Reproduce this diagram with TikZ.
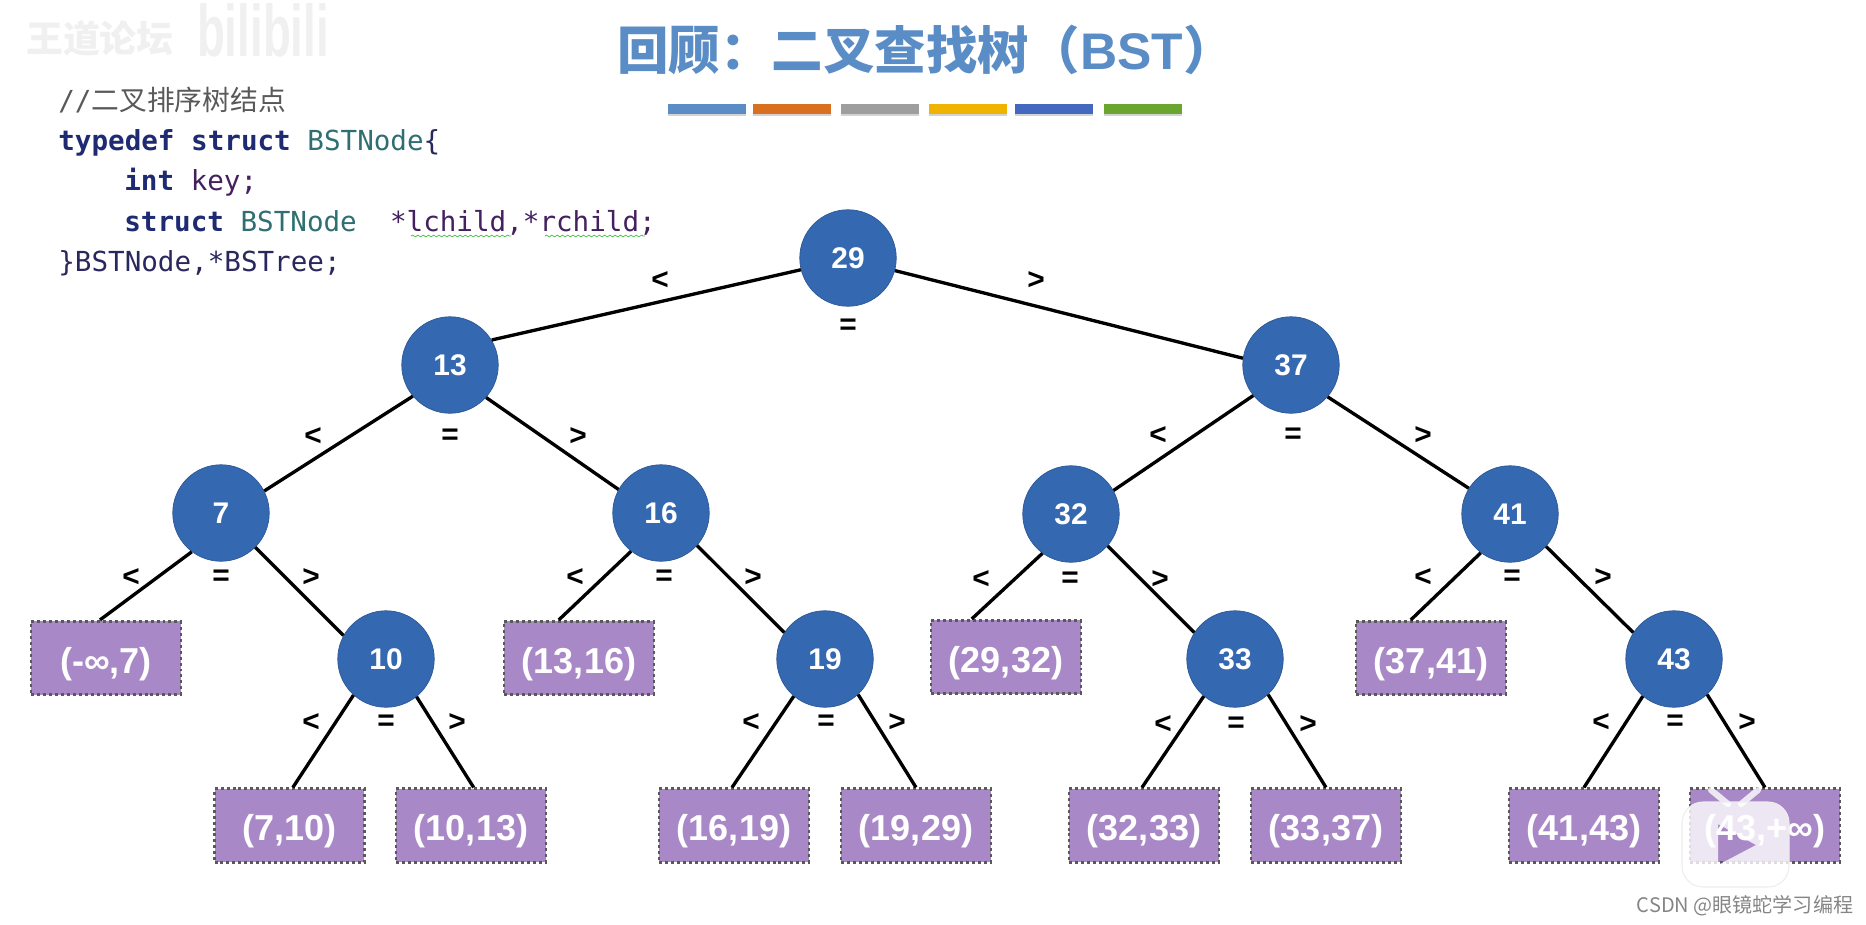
\documentclass[tikz,border=0pt]{standalone}
\usepackage{fontspec}
\setmainfont{Liberation Sans}
\setmonofont{DejaVu Sans Mono}
\newfontfamily\cjk{Noto Sans CJK SC}
\usetikzlibrary{shadows,decorations.pathmorphing}
\definecolor{titleblue}{HTML}{5A8CC6}
\definecolor{treeblue}{HTML}{3468B0}
\definecolor{leafpurple}{HTML}{A888C6}
\definecolor{kwblue}{HTML}{1E2A72}
\definecolor{typeteal}{HTML}{2F6F72}
\definecolor{varpurple}{HTML}{43205F}
\definecolor{codeink}{HTML}{28285E}
\definecolor{barorange}{HTML}{D9701F}
\definecolor{baryellow}{HTML}{F0B400}
\definecolor{barblue}{HTML}{4468BF}
\definecolor{bargreen}{HTML}{6AA52F}
\tikzset{
  tree/.style={circle,fill=treeblue,draw=treeblue!85!black,line width=0.4pt,minimum size=1.93cm,inner sep=0pt,text=white,font=\fontsize{17}{18}\selectfont\bfseries},
  leaf/.style={rectangle,fill=leafpurple,draw=black!65,line width=1.5pt,dash pattern=on 1.7pt off 1.7pt,minimum width=3cm,minimum height=1.47cm,inner sep=0pt,text=white,text height=22.4pt,text depth=5pt,font=\fontsize{20.5}{22}\selectfont\bfseries},
  edge/.style={black,line width=1.9pt},
  cmp/.style={inner sep=0pt,yshift=-0.05cm,font=\fontsize{17}{18}\selectfont\bfseries},
  bar/.style={rectangle,minimum width=1.56cm,minimum height=0.2cm,inner sep=0pt,drop shadow={shadow xshift=0pt,shadow yshift=-1.2pt,opacity=0.35}},
  code/.style={anchor=base west,inner sep=0pt,font=\fontsize{15.7}{18}\selectfont\ttfamily},
  squiggle/.style={draw=green!45!gray,line width=0.4pt,decorate,decoration={snake,amplitude=0.5pt,segment length=3pt}},
}
\begin{document}
\begin{tikzpicture}[x=0.02cm,y=-0.02cm]
    \useasboundingbox (0,0) rectangle (1866,924);
    % watermark, top left
    \node[text=black!6,font=\cjk\bfseries\fontsize{21}{24}\selectfont] (wmark) at (100,39) {王道论坛};
    \node[text=black!6,font=\fontsize{26}{28}\selectfont\bfseries,yscale=1.6] (wlogo) at (263,30) {bilibili};
    % title and bars
    \node[text=titleblue,font=\cjk\bfseries\fontsize{29.3}{32}\selectfont] (title) at (926,50) {回顾：二叉查找树（{\rmfamily\bfseries BST}）};
    \node[bar,fill=titleblue] (bar1) at (707,109) {};
    \node[bar,fill=barorange] (bar2) at (792,109) {};
    \node[bar,fill=black!38] (bar3) at (880,109) {};
    \node[bar,fill=baryellow] (bar4) at (968,109) {};
    \node[bar,fill=barblue] (bar5) at (1054,109) {};
    \node[bar,fill=bargreen] (bar6) at (1143,109) {};
    % struct code
    \node[code,text=black!65] (code1) at (58,110) {//{\cjk\fontsize{15.8}{20}\selectfont 二叉排序树结点}};
    \node[code,text=codeink] (code2) at (58,150) {\textcolor{kwblue}{\bfseries typedef struct} \textcolor{typeteal}{BSTNode}\{};
    \node[code,text=varpurple] (code3) at (124,190) {\textcolor{kwblue}{\bfseries int} key;};
    \node[code,text=varpurple] (code4) at (124,231) {\textcolor{kwblue}{\bfseries struct} \textcolor{typeteal}{BSTNode}\ \ *lchild,*rchild;};
    \node[code,text=codeink] (code5) at (58,271) {\}BSTNode,*BSTree;};
    \coordinate (W1) at (411,236);
    \coordinate (W2) at (511,236);
    \coordinate (W3) at (545,236);
    \coordinate (W4) at (645,236);
    \draw[squiggle] (W1) -- (W2);
    \draw[squiggle] (W3) -- (W4);
    % keys
    \node[tree] (N29) at (848,258) {29};
    \node[tree] (N13) at (450,365) {13};
    \node[tree] (N37) at (1291,365) {37};
    \node[tree] (N7) at (221,513) {7};
    \node[tree] (N16) at (661,513) {16};
    \node[tree] (N32) at (1071,514) {32};
    \node[tree] (N41) at (1510,514) {41};
    \node[tree] (N10) at (386,659) {10};
    \node[tree] (N19) at (825,659) {19};
    \node[tree] (N33) at (1235,659) {33};
    \node[tree] (N43) at (1674,659) {43};
    % intervals
    \node[leaf] (Rinf7) at (106,658) {(-∞,7)};
    \node[leaf] (R13x16) at (579,658) {(13,16)};
    \node[leaf] (R29x32) at (1006,657) {(29,32)};
    \node[leaf] (R37x41) at (1431,658) {(37,41)};
    \node[leaf] (R7x10) at (289.5,825.5) {(7,10)};
    \node[leaf] (R10x13) at (471,825.5) {(10,13)};
    \node[leaf] (R16x19) at (734,825.5) {(16,19)};
    \node[leaf] (R19x29) at (916,825.5) {(19,29)};
    \node[leaf] (R32x33) at (1144,825.5) {(32,33)};
    \node[leaf] (R33x37) at (1326,825.5) {(33,37)};
    \node[leaf] (R41x43) at (1584,825.5) {(41,43)};
    \node[leaf] (R43inf) at (1765,825.5) {(43,+∞)};
    % edges
    \draw[edge] (N29.194) -- (N13.31);
    \draw[edge] (N29.345) -- (N37.172);
    \draw[edge] (N13.220) -- (N7.27);
    \draw[edge] (N13.318) -- (N16.151);
    \draw[edge] (N37.219) -- (N32.29);
    \draw[edge] (N37.319) -- (N41.148);
    \draw[edge] (N7.233) -- (Rinf7.99);
    \draw[edge] (N7.315) -- (N10.151);
    \draw[edge] (N16.232) -- (R13x16.118);
    \draw[edge] (N16.318) -- (N19.147);
    \draw[edge] (N32.234) -- (R29x32.132);
    \draw[edge] (N32.319) -- (N33.147);
    \draw[edge] (N41.233) -- (R37x41.118);
    \draw[edge] (N41.318) -- (N43.147);
    \draw[edge] (N10.228) -- (R7x10.85);
    \draw[edge] (N10.309) -- (R10x13.86);
    \draw[edge] (N19.230) -- (R16x19.93);
    \draw[edge] (N19.313) -- (R19x29.north);
    \draw[edge] (N33.230) -- (R32x33.93);
    \draw[edge] (N33.313) -- (R33x37.north);
    \draw[edge] (N43.230) -- (R41x43.north);
    \draw[edge] (N43.313) -- (R43inf.north);
    % comparison marks
    \node[cmp] (lt29) at (660,278) {<};
    \node[cmp] (eq29) at (848,324) {=};
    \node[cmp] (gt29) at (1036,278) {>};
    \node[cmp] (lt13) at (313,434) {<};
    \node[cmp] (eq13) at (450,434) {=};
    \node[cmp] (gt13) at (578,434) {>};
    \node[cmp] (lt37) at (1158,433) {<};
    \node[cmp] (eq37) at (1293,433) {=};
    \node[cmp] (gt37) at (1423,433) {>};
    \node[cmp] (lt7) at (131,575) {<};
    \node[cmp] (eq7) at (221,575) {=};
    \node[cmp] (gt7) at (311,575) {>};
    \node[cmp] (lt16) at (575,575) {<};
    \node[cmp] (eq16) at (664,575) {=};
    \node[cmp] (gt16) at (753,575) {>};
    \node[cmp] (lt32) at (981,577) {<};
    \node[cmp] (eq32) at (1070,577) {=};
    \node[cmp] (gt32) at (1160,577) {>};
    \node[cmp] (lt41) at (1423,575) {<};
    \node[cmp] (eq41) at (1512,575) {=};
    \node[cmp] (gt41) at (1603,575) {>};
    \node[cmp] (lt10) at (311,720) {<};
    \node[cmp] (eq10) at (386,720) {=};
    \node[cmp] (gt10) at (457,720) {>};
    \node[cmp] (lt19) at (751,720) {<};
    \node[cmp] (eq19) at (826,720) {=};
    \node[cmp] (gt19) at (897,720) {>};
    \node[cmp] (lt33) at (1163,722) {<};
    \node[cmp] (eq33) at (1236,722) {=};
    \node[cmp] (gt33) at (1308,722) {>};
    \node[cmp] (lt43) at (1601,720) {<};
    \node[cmp] (eq43) at (1675,720) {=};
    \node[cmp] (gt43) at (1747,720) {>};
    % player badge, bottom right
    \draw[white,opacity=0.8,line width=3.5pt,line cap=round] (1711,790) -- (1728,804) (1758,790) -- (1741,804);
    \fill[white,opacity=0.8,even odd rule,rounded corners=0.42cm] (1682,802) rectangle (1789,887)
        [sharp corners] (1718,824) -- (1756,845) -- (1718,865) -- cycle;
    \draw[black!7,line width=0.6pt,rounded corners=0.42cm] (1682,802) rectangle (1789,887);
    \node[text=black!48,font=\cjk\fontsize{11.4}{14}\selectfont] (csdn) at (1745,906) {CSDN @眼镜蛇学习编程};
\end{tikzpicture}
\end{document}
